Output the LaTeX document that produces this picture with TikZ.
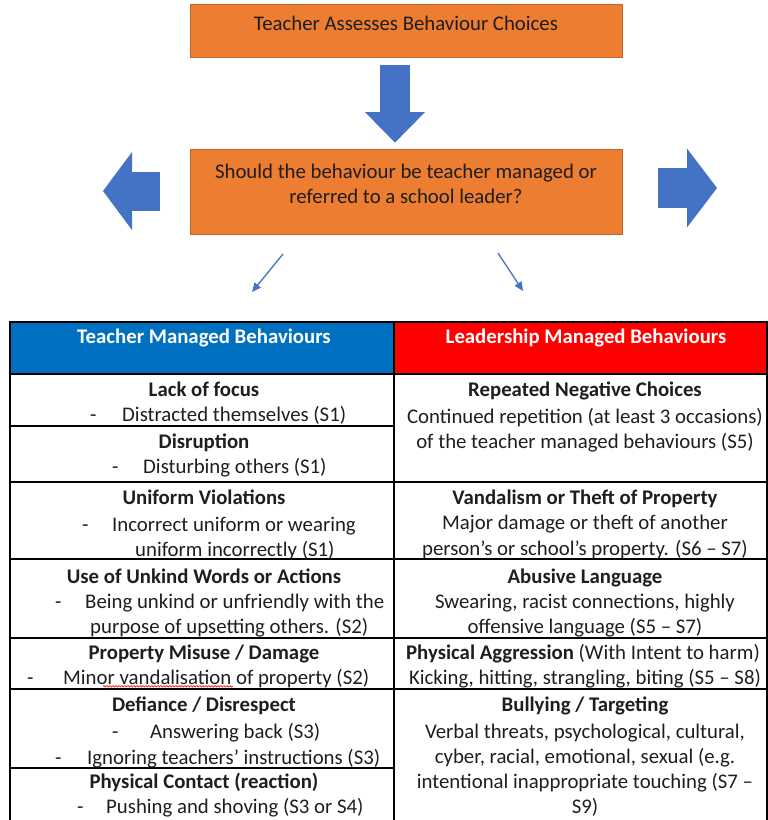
\documentclass[tikz,border=0pt]{standalone}
\usepackage{fontspec}
\setmainfont{Carlito}
\usepackage{xcolor}
\definecolor{morange}{HTML}{ED7D31}
\definecolor{medge}{HTML}{C0642A}
\definecolor{mblue}{HTML}{4472C4}
\definecolor{tblue}{HTML}{0070C0}
\definecolor{tred}{HTML}{FF0000}
\definecolor{ink}{HTML}{1E1E1E}
\usepackage{tikz}
\usetikzlibrary{arrows.meta,decorations.pathmorphing}
\newcommand{\bodysize}{\fontsize{20.8}{25}\selectfont}

\begin{document}
\begin{tikzpicture}[x=1pt, y=-1pt,
    orangebox/.style={draw=medge, line width=0.8pt, fill=morange, minimum width=432pt,
        inner sep=0pt, font=\bodysize, text=ink},
    thinarrow/.style={draw=mblue, line width=1.3pt, -{Triangle[length=9pt,width=8pt]}},
    rule/.style={draw=black, line width=1.1pt},
    cell/.style={anchor=base, inner sep=0pt, font=\bodysize, text=ink},
    cellhead/.style={cell, font=\bodysize\bfseries},
    item/.style={cell, anchor=base west},
    thead/.style={cell, font=\bodysize\bfseries, text=white}]
    \useasboundingbox (0,0) rectangle (768,820);

    % flow at the top
    \node[orangebox, minimum height=53pt, text height=10pt, text depth=10pt] (assess) at (406,30.5)
        {Teacher Assesses Behaviour Choices};
    \node[orangebox, minimum height=85pt, align=center, text depth=16pt] (decide) at (406,191.5)
        {Should the behaviour be teacher managed or\\referred to a school leader?};
    \draw[mblue, line width=30pt, shorten <=8pt, shorten >=6pt,
        -{Triangle[length=30.5pt,width=60pt,line width=0pt]}]
        ([xshift=-11pt]assess.south) -- ([xshift=-11pt]decide.north);
    \coordinate (lbase) at (160,191);
    \coordinate (ltip) at (103,191);
    \coordinate (rbase) at (658,188);
    \coordinate (rtip) at (717,188);
    \draw[mblue, line width=39pt, -{Triangle[length=29pt,width=78pt,line width=0pt]}] (lbase) -- (ltip);
    \draw[mblue, line width=40pt, -{Triangle[length=30pt,width=79pt,line width=0pt]}] (rbase) -- (rtip);
    \coordinate (tmfrom) at (283,254);
    \coordinate (tmto) at (252,292);
    \coordinate (lmfrom) at (498,253);
    \coordinate (lmto) at (523,291);
    \draw[thinarrow] (tmfrom) -- (tmto);
    \draw[thinarrow] (lmfrom) -- (lmto);

    % table
    \fill[tblue] (10,322) rectangle (394,374);
    \fill[tred] (394,322) rectangle (767,374);
    \draw[rule] (10,322) rectangle (767,823);
    \draw[rule] (394,322) -- (394,823);
    \foreach \y in {374,482,559,638,689}
        \draw[rule] (10,\y) -- (767,\y);
    \foreach \y in {426,768}
        \draw[rule] (10,\y) -- (394,\y);
    \node[thead] (tmhead) at (204,343) {Teacher Managed Behaviours};
    \node[thead] (lmhead) at (586,343) {Leadership Managed Behaviours};

    % teacher managed column
    \foreach \y/\t [count=\i] in {396/Lack of focus, 448/Disruption, 504/Uniform Violations,
            583/Use of Unkind Words or Actions, 659/{Property Misuse / Damage},
            711/{Defiance / Disrespect}, 788/Physical Contact (reaction)}
        \node[cellhead] (tm\i) at (204,\y) {\t};
    \foreach \dx/\tx/\y/\t [count=\i] in {90/122/421/Distracted themselves (S1),
            112/143/473/Disturbing others (S1), 82/112/531/Incorrect uniform or wearing,
            55/85/608/Being unkind or unfriendly with the, 27/63/684/Minor vandalisation of property (S2),
            112/150/738/Answering back (S3), 55/87/764/Ignoring teachers’ instructions (S3),
            77/106/813/Pushing and shoving (S3 or S4)} {
        \node[item] (dash\i) at (\dx,\y) {-};
        \node[item] (tmi\i) at (\tx,\y) {\t};
    }
    \node[item] (tmc1) at (135,556) {uniform incorrectly (S1)};
    \node[item] (tmc2) at (90,633) {purpose of upsetting others. (S2)};
    \draw[red, line width=0.6pt, decorate, decoration={snake, amplitude=0.8pt, segment length=3pt}]
        (103,686.3) -- (233,686.3);

    % leadership managed column
    \foreach \y/\t [count=\i] in {396/Repeated Negative Choices, 504/Vandalism or Theft of Property,
            583/Abusive Language, 711/{Bullying / Targeting}}
        \node[cellhead] (lm\i) at (585,\y) {\t};
    \foreach \y/\t [count=\i] in {423/{Continued repetition (at least 3 occasions)},
            448/{of the teacher managed behaviours (S5)},
            529/{Major damage or theft of another},
            555/{person’s or school’s property. (S6 – S7)},
            608/{Swearing, racist connections, highly},
            633/{offensive language (S5 – S7)},
            684/{Kicking, hitting, strangling, biting (S5 – S8)},
            738/{Verbal threats, psychological, cultural,},
            763/{cyber, racial, emotional, sexual (e.g.},
            788/{intentional inappropriate touching (S7 –},
            813/{S9)}}
        \node[cell] (lml\i) at (585,\y) {\t};
    \node[cell] (lmagg) at (583,659) {\textbf{Physical Aggression} (With Intent to harm)};
\end{tikzpicture}
\end{document}
